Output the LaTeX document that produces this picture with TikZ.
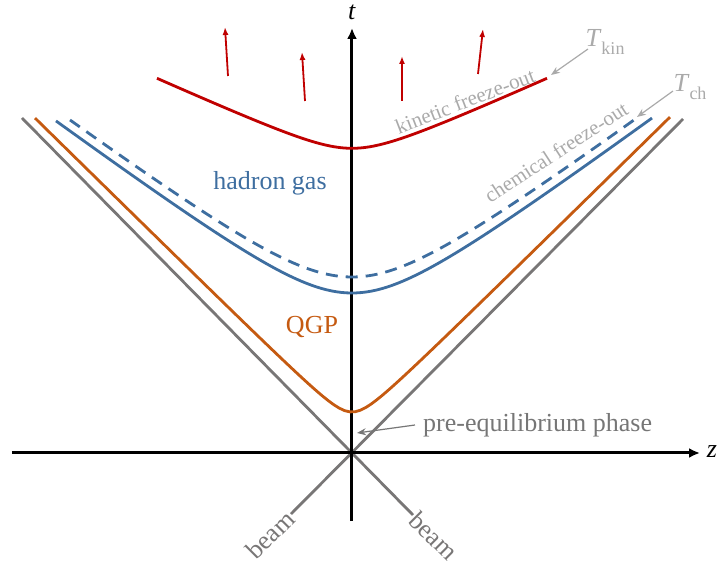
\documentclass[tikz,border=0pt]{standalone}
\usepackage{fontspec}
\setmainfont{Liberation Serif}
\usetikzlibrary{arrows.meta}
\definecolor{cred}{RGB}{192,0,0}
\definecolor{cblue}{RGB}{62,110,160}
\definecolor{corange}{RGB}{197,90,17}
\definecolor{ccone}{RGB}{120,118,118}
\definecolor{clight}{RGB}{170,170,170}
\definecolor{cmid}{RGB}{118,118,118}
\tikzset{
  bigfont/.style={font=\fontsize{26}{30}\selectfont},
  smallfont/.style={font=\fontsize{21}{24}\selectfont},
  axisline/.style={line width=3pt, -{Latex[length=11pt,width=10pt]}},
  coneline/.style={line width=2.8pt, ccone},
  curve/.style={line width=2.8pt},
  flowarrow/.style={line width=1.8pt, cred, -{Latex[length=8pt,width=6pt]}},
  notearrow/.style={line width=1.2pt, -{Stealth[length=9pt,width=7pt]}},
}
\begin{document}
\begin{tikzpicture}[x=1pt,y=1pt]
\useasboundingbox (-352,-112) rectangle (366,453);

% light cone
\coordinate (cTL) at (-330,335);
\coordinate (cBR) at (61,-62);
\coordinate (cTR) at (331,334);
\coordinate (cBL) at (-61,-61);
\draw[coneline] (cTL) -- (cBR);
\draw[coneline] (cTR) -- (cBL);
\node[ccone, bigfont, rotate=45, anchor=east, inner sep=1pt] (beamL) at (cBL) {beam};
\node[ccone, bigfont, rotate=-45, anchor=west, inner sep=1pt] (beamR) at (cBR) {beam};

% axes
\coordinate (zL) at (-340,0);
\coordinate (zR) at (348,0);
\coordinate (tB) at (0,-68);
\coordinate (tT) at (0,425);
\draw[axisline] (zL) -- (zR);
\draw[axisline] (tB) -- (tT);
\node[bigfont] (zlab) at (360,1) {\textit{z}};
\node[bigfont] (tlab) at (0,441) {\textit{t}};

% hypersurfaces
\draw[curve, corange] plot[domain=-317:318, samples=120] (\x, {22.7+100*sqrt(0.183*0.183+0.967*(\x/100)*(\x/100))});
\draw[curve, cblue] plot[domain=-296:300, samples=120] (\x, {106+100*sqrt(0.54*0.54+0.55*(\x/100)*(\x/100))});
\draw[curve, cblue, dash pattern=on 12pt off 8pt] plot[domain=-282:283, samples=120] (\x, {116+100*sqrt(0.60*0.60+0.547*(\x/100)*(\x/100))});
\draw[curve, cred] plot[domain=-195:195, samples=120] (\x, {284.7+100*sqrt(0.2*0.2+0.2025*(\x/100)*(\x/100))});

% flow arrows
\coordinate (f1a) at (-124,377); \coordinate (f1b) at (-127,426);
\coordinate (f2a) at (-47,352);  \coordinate (f2b) at (-50,401);
\coordinate (f3a) at (50,352);   \coordinate (f3b) at (50,397);
\coordinate (f4a) at (126,379);  \coordinate (f4b) at (131,424);
\draw[flowarrow] (f1a) -- (f1b);
\draw[flowarrow] (f2a) -- (f2b);
\draw[flowarrow] (f3a) -- (f3b);
\draw[flowarrow] (f4a) -- (f4b);

% region labels
\node[bigfont, cblue] (hg) at (-82,270) {hadron gas};
\node[bigfont, corange] (qgp) at (-40,126) {QGP};
\node[bigfont, cmid, anchor=west, inner sep=0pt] (pre) at (71,28) {pre-equilibrium phase};
\coordinate (preStart) at (63,28);
\coordinate (preTip) at (5,20);
\draw[notearrow, cmid] (preStart) -- (preTip);

% freeze-out labels
\node[smallfont, clight, rotate=21] (kfo) at (113,352) {kinetic freeze-out};
\node[smallfont, clight, rotate=33] (cfo) at (204,301) {chemical freeze-out};
\node[bigfont, clight] (Tkin) at (253,411) {\textit{T}\raisebox{-0.3em}{\fontsize{18}{20}\selectfont kin}};
\node[bigfont, clight] (Tch) at (338,366) {\textit{T}\raisebox{-0.3em}{\fontsize{18}{20}\selectfont ch}};
\coordinate (TkinS) at (236,404); \coordinate (TkinE) at (199,378);
\coordinate (TchS) at (321,362);  \coordinate (TchE) at (285,336);
\draw[notearrow, clight] (TkinS) -- (TkinE);
\draw[notearrow, clight] (TchS) -- (TchE);
\end{tikzpicture}
\end{document}
